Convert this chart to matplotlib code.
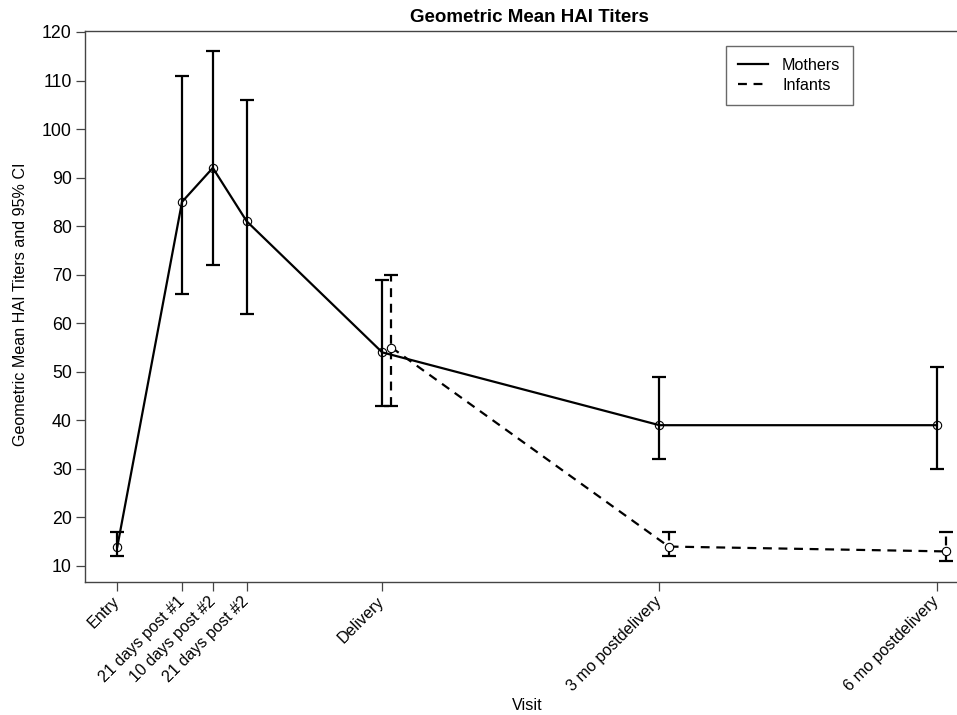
import matplotlib
matplotlib.use("Agg")
import matplotlib.pyplot as plt
import matplotlib.transforms as mtransforms
from matplotlib.lines import Line2D

plt.rcParams['font.family'] = ['Liberation Sans', 'DejaVu Sans']

visits = ["Entry", "21 days post #1", "10 days post #2", "21 days post #2",
          "Delivery", "3 mo postdelivery", "6 mo postdelivery"]
visit_days = [0, 21, 31, 42, 86, 176, 266]

mothers_gmt = [14, 85, 92, 81, 54, 39, 39]
mothers_lo = [12, 66, 72, 62, 43, 32, 30]
mothers_hi = [17, 111, 116, 106, 69, 49, 51]

infant_days = [86, 176, 266]
infants_gmt = [55, 14, 13]
infants_lo = [43, 12, 11]
infants_hi = [70, 17, 17]

infant_shift = 3

fig = plt.figure(figsize=(9.57, 7.15), dpi=100)
W, H = 957, 715
ax = fig.add_axes([85 / W, 1 - 582 / H, (973 - 85) / W, (582 - 31) / H])

lw = 1.6
cap = 4.8
fs_tick = 12.8
fs = 11.6

# Mothers
ax.plot(visit_days, mothers_gmt, '-', color='black', lw=lw, zorder=3)
ax.errorbar(visit_days, mothers_gmt,
            yerr=[[m - l for m, l in zip(mothers_gmt, mothers_lo)],
                  [h - m for m, h in zip(mothers_gmt, mothers_hi)]],
            fmt='none', ecolor='black', elinewidth=lw, capsize=cap, capthick=lw, zorder=3)
ax.plot(visit_days, mothers_gmt, 'o', mfc='none', mec='black', ms=6, mew=0.8, zorder=4)

# Infants
ix = [d + infant_shift for d in infant_days]
ax.plot(ix, infants_gmt, '--', color='black', lw=lw, dashes=(4, 3), zorder=3)
eb = ax.errorbar(ix, infants_gmt,
                 yerr=[[m - l for m, l in zip(infants_gmt, infants_lo)],
                       [h - m for m, h in zip(infants_gmt, infants_hi)]],
                 fmt='none', ecolor='black', elinewidth=lw, capsize=cap, capthick=lw, zorder=3)
for lc in eb[2]:
    lc.set_linestyle((0, (4, 3)))
ax.plot(ix, infants_gmt, 'o', mfc='white', mec='black', ms=6, mew=0.8, zorder=4)

ax.set_xlim(-10.5, 277.8)
ax.set_ylim(6.7, 120.2)
ax.set_yticks(range(10, 121, 10))
ax.set_xticks(visit_days)
ax.set_xticklabels(visits, rotation=45, ha='right', va='center', rotation_mode='anchor',
                   fontsize=fs)
offset = mtransforms.ScaledTranslation(-4 / 100, 3 / 100, fig.dpi_scale_trans)
for lab in ax.get_xticklabels():
    lab.set_transform(lab.get_transform() + offset)

for s in ['left', 'bottom', 'top', 'right']:
    ax.spines[s].set_color('#444444')
    ax.spines[s].set_linewidth(1.0)
ax.tick_params(axis='both', direction='out', length=6.5, width=0.9, color='#444444', pad=3)
ax.tick_params(axis='y', labelsize=fs_tick)
ax.tick_params(axis='x', pad=6)

fig.text(529 / W, 1 - 17 / H, "Geometric Mean HAI Titers", ha='center', va='center',
         fontsize=13.5, fontweight='bold')
fig.text(21 / W, 1 - 304 / H, "Geometric Mean HAI Titers and 95% CI", rotation=90,
         ha='center', va='center', fontsize=fs)
fig.text(527 / W, 1 - 706 / H, "Visit", ha='center', va='center', fontsize=fs)

handles = [Line2D([], [], color='black', lw=lw),
           Line2D([], [], color='black', lw=lw, dashes=(4, 3))]
leg = ax.legend(handles, ["Mothers", "Infants"], loc='upper left',
                bbox_to_anchor=((726 - 85) / (973 - 85), 1 - (46 - 31) / (582 - 31)),
                frameon=True, fancybox=False, edgecolor='#444444', fontsize=fs,
                handlelength=1.86, borderpad=0.75, labelspacing=0.3, handletextpad=0.87,
                borderaxespad=0)
leg.get_frame().set_linewidth(1.0)

fig.savefig("out.png", dpi=100)
